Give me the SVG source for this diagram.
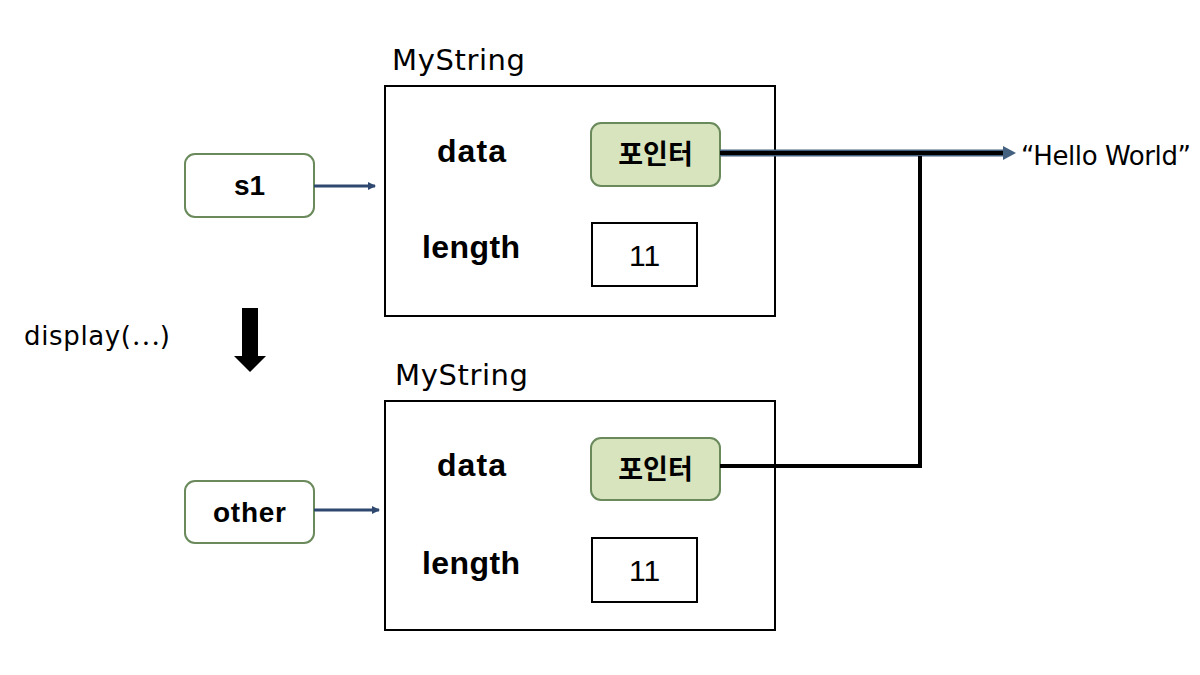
<svg xmlns="http://www.w3.org/2000/svg" width="1200" height="675" viewBox="0 0 1200 675">
<style>
.title{font-family:"DejaVu Sans","Liberation Sans",sans-serif;font-size:29px;fill:#000}
.lbl{font-family:"Liberation Sans","DejaVu Sans",sans-serif;font-weight:bold;font-size:32px;fill:#000}
.var-t{font-family:"Liberation Sans","DejaVu Sans",sans-serif;font-weight:bold;font-size:28px;fill:#000}
.ko{font-family:"Noto Sans CJK KR",sans-serif;font-weight:bold;font-size:27px;fill:#000}
.num{font-family:"Liberation Sans","DejaVu Sans",sans-serif;font-size:30px;fill:#000}
.txt{font-family:"DejaVu Sans","Liberation Sans",sans-serif;font-size:26px;fill:#000}
.box{fill:#fff;stroke:#000;stroke-width:2}
.var{fill:#fff;stroke:#6a8a5c;stroke-width:2}
.ptr{fill:#d7e4bd;stroke:#6a8a5c;stroke-width:2}
</style>
<defs>
<marker id="sm" markerWidth="8" markerHeight="8" refX="7" refY="4" orient="auto" markerUnits="userSpaceOnUse">
<path d="M0,0 L8,4 L0,8 Z" fill="#2f4870"/>
</marker>
</defs>
<rect width="1200" height="675" fill="#fff"/>

<g id="mystring1">
<text class="title" x="392" y="70" textLength="133">MyString</text>
<rect class="box" x="385" y="86" width="390" height="230"/>
<text class="lbl" x="437" y="162" textLength="69">data</text>
<text class="lbl" x="422" y="258" textLength="98">length</text>
</g>
<g id="ptr1">
<rect class="ptr" x="591" y="123" width="129" height="63" rx="10"/>
<text class="ko" x="655.5" y="164" text-anchor="middle">포인터</text>
</g>
<g id="len1">
<rect class="box" x="592" y="223" width="105" height="63"/>
<text class="num" x="644.5" y="266" text-anchor="middle">11</text>
</g>

<g id="mystring2">
<text class="title" x="395" y="385" textLength="133">MyString</text>
<rect class="box" x="385" y="401" width="390" height="229"/>
<text class="lbl" x="437" y="476" textLength="69">data</text>
<text class="lbl" x="422" y="574" textLength="98">length</text>
</g>
<g id="ptr2">
<rect class="ptr" x="591" y="438" width="129" height="62" rx="10"/>
<text class="ko" x="655.5" y="479" text-anchor="middle">포인터</text>
</g>
<g id="len2">
<rect class="box" x="592" y="538" width="105" height="64"/>
<text class="num" x="644.5" y="581" text-anchor="middle">11</text>
</g>

<g id="s1">
<rect class="var" x="185" y="154" width="129" height="63" rx="10"/>
<text class="var-t" x="249.5" y="195" text-anchor="middle">s1</text>
</g>
<g id="other">
<rect class="var" x="185" y="481" width="129" height="62" rx="10"/>
<text class="var-t" x="249.5" y="522" text-anchor="middle" textLength="73">other</text>
</g>

<g id="hello">
<text class="txt" x="1021" y="165" textLength="170">“Hello World”</text>
</g>
<g id="display">
<text class="txt" x="24" y="345" font-size="28" textLength="146">display(<tspan font-family="Noto Sans CJK KR, sans-serif">…</tspan>)</text>
</g>

<g id="connectors">
<line x1="314" y1="186" x2="375" y2="186" stroke="#2f4870" stroke-width="3" marker-end="url(#sm)"/>
<line x1="314" y1="510" x2="379" y2="510" stroke="#2f4870" stroke-width="3" marker-end="url(#sm)"/>
<line x1="720" y1="153" x2="1006" y2="153" stroke="#44607f" stroke-width="7"/>
<line x1="720" y1="153" x2="1006" y2="153" stroke="#000" stroke-width="4"/>
<path d="M1003,146 L1016,153 L1003,160 Z" fill="#44607f"/>
<polyline points="720,466 920,466 920,156" fill="none" stroke="#000" stroke-width="4"/>
<path d="M242,308 L258,308 L258,356 L266,356 L250,372 L234,356 L242,356 Z" fill="#000"/>
</g>
</svg>
